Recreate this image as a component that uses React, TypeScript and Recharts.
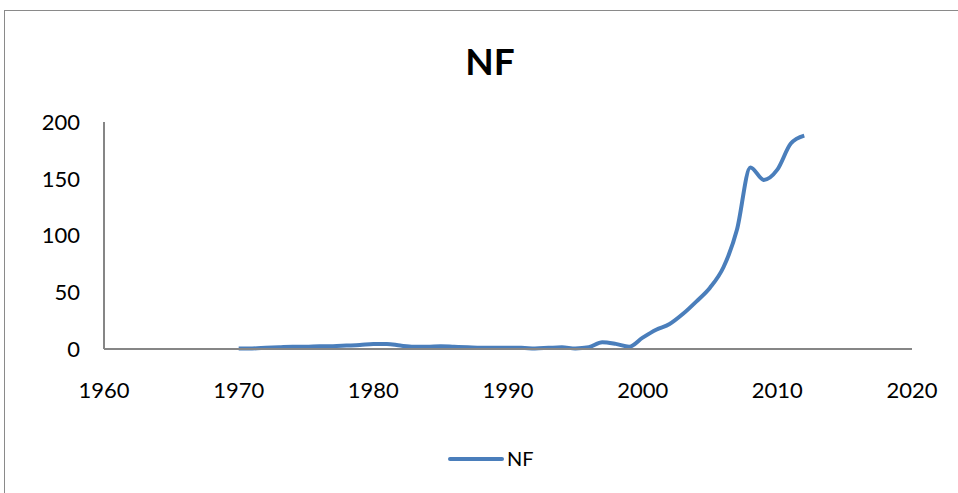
import {Line, LineChart, XAxis, YAxis} from "recharts";

const years = [1970, 1971, 1972, 1973, 1974, 1975, 1976, 1977, 1978, 1979, 1980, 1981, 1982, 1983, 1984, 1985, 1986, 1987, 1988, 1989, 1990, 1991, 1992, 1993, 1994, 1995, 1996, 1997, 1998, 1999, 2000, 2001, 2002, 2003, 2004, 2005, 2006, 2007, 2008, 2009, 2010, 2011, 2012];
const nfValues = [0.5, 0.5, 1, 1.5, 2, 2, 2.5, 2.5, 3, 3.5, 4.5, 4.5, 3, 2, 2, 2.5, 2, 1.5, 1, 1, 1, 1, 0.5, 1, 1.5, 0.5, 1.5, 6, 4.5, 2, 10, 17, 22, 31, 42, 54, 72, 105, 160, 149, 158, 181, 188];
const xTicks = [1960, 1970, 1980, 1990, 2000, 2010, 2020];
const yTicks = [0, 50, 100, 150, 200];

const data = years.map((year, i) => ({year, NF: nfValues[i]}));

const font = "Lato, 'Open Sans', sans-serif";
const lineColor = "#4A7EBB";
const axisColor = "#868686";

export default function App() {
    return <div style={{position: "absolute", left: 0, top: 0, width: 958, height: 493, overflow: "hidden", background: "#fff"}}>
        <div style={{position: "absolute", left: 4, top: 10, width: 1100, height: 700, border: "1.5px solid #8a8a8a"}}/>
        <div style={{position: "absolute", left: 0, top: 38, width: 980, textAlign: "center", fontFamily: font, fontWeight: 700, fontSize: 37, color: "#000"}}>NF</div>
        <div style={{position: "absolute", left: 0, top: 0}}>
            <LineChart width={958} height={493} data={data} margin={{top: 122, right: 46, bottom: 114, left: 0}}>
                <XAxis dataKey="year" type="number" domain={[1960, 2020]} ticks={xTicks} interval={0} height={30}
                       axisLine={{stroke: axisColor, strokeWidth: 2}} tickLine={false} tickSize={0} tickMargin={33}
                       tick={{fill: "#000", fontSize: 22, fontFamily: font}}/>
                <YAxis type="number" domain={[0, 200]} ticks={yTicks} interval={0} width={104}
                       axisLine={{stroke: axisColor, strokeWidth: 2}} tickLine={false} tickSize={0} tickMargin={24}
                       tick={{fill: "#000", fontSize: 22, fontFamily: font}}/>
                <Line type="monotone" dataKey="NF" stroke={lineColor} strokeWidth={4} dot={false} isAnimationActive={false}/>
            </LineChart>
        </div>
        <svg style={{position: "absolute", left: 0, top: 445}} width={958} height={30}>
            <line x1={450} y1={14} x2={502} y2={14} stroke={lineColor} strokeWidth={4} strokeLinecap="round"/>
            <text x={507} y={21} fontFamily={font} fontSize={20} fill="#000">NF</text>
        </svg>
    </div>
}
